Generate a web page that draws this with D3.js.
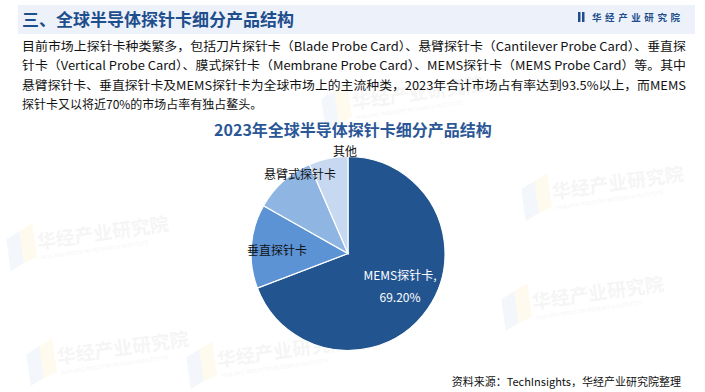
<!DOCTYPE html>
<html>
<head>
<meta charset="utf-8">
<script src="https://cdn.jsdelivr.net/npm/d3@7"></script>
<style>
  body { margin: 0; background: #fff; }
  svg { display: block; font-family: "Noto Sans CJK SC", "Noto Sans", sans-serif; }
</style>
</head>
<body>
<script>
// data
const categories = ["MEMS探针卡", "垂直探针卡", "悬臂式探针卡", "其他"];
const shares = [69.2, 14.0, 10.3, 6.5];
const colors = ["#22548f", "#5b93d5", "#8fb5e3", "#c6d9f1"];

const bodyLines = [
  "目前市场上探针卡种类繁多，包括刀片探针卡（Blade Probe Card）、悬臂探针卡（Cantilever Probe Card）、垂直探",
  "针卡（Vertical Probe Card）、膜式探针卡（Membrane Probe Card）、MEMS探针卡（MEMS Probe Card）等。其中",
  "悬臂探针卡、垂直探针卡及MEMS探针卡为全球市场上的主流种类，2023年合计市场占有率达到93.5%以上，而MEMS",
  "探针卡又以将近70%的市场占率有独占鳌头。"
];

const W = 705, H = 392;
const svg = d3.select("body").append("svg").attr("width", W).attr("height", H);

// faint watermarks
const marks = [[30, 250], [50, 365], [345, 110], [525, 310], [545, 200], [210, 368]];
marks.forEach(([x, y]) => {
  const g = svg.append("g").attr("transform", `translate(${x},${y}) rotate(-8)`);
  g.append("path").attr("d", "M-22,-14 L-8,-20 L-8,12 L-22,18 Z").attr("fill", "#e8eef8").attr("opacity", 0.5);
  g.append("path").attr("d", "M-8,-20 L6,-26 L6,8 L-8,12 Z").attr("fill", "#fdf6dc").attr("opacity", 0.5);
  g.append("text").attr("x", 8).attr("y", 0).attr("font-size", 19).attr("font-weight", "bold")
    .attr("fill", "#000").attr("opacity", 0.035).text("华经产业研究院");
  g.append("text").attr("x", 10).attr("y", 11).attr("font-size", 5.5)
    .attr("fill", "#000").attr("opacity", 0.04).text("HUAJING INDUSTRY RESEARCH INSTITUTE");
});

// header bar
svg.append("rect").attr("x", 18).attr("y", 5).attr("width", 677).attr("height", 29).attr("fill", "#edf2fa");
svg.append("text").attr("x", 22).attr("y", 26).attr("font-size", 17).attr("font-weight", "bold")
  .attr("fill", "#1f4e8c").text("三、全球半导体探针卡细分产品结构");

// logo
svg.append("rect").attr("x", 578).attr("y", 12).attr("width", 2.5).attr("height", 10).attr("fill", "#1f4e8c");
svg.append("rect").attr("x", 582).attr("y", 12).attr("width", 2.5).attr("height", 10).attr("fill", "#1f4e8c");
svg.append("text").attr("x", 592).attr("y", 21).attr("font-size", 9.5).attr("font-weight", "bold")
  .attr("fill", "#1f4e8c").attr("textLength", 88).attr("lengthAdjust", "spacing").text("华经产业研究院");

// paragraph
svg.selectAll("text.body").data(bodyLines).enter().append("text")
  .attr("class", "body")
  .attr("x", 22)
  .attr("y", (d, i) => 51 + i * 19.3)
  .attr("font-size", 12)
  .attr("fill", "#111")
  .attr("textLength", (d, i) => i < 3 ? 664 : null)
  .attr("lengthAdjust", "spacingAndGlyphs")
  .text(d => d);

// chart title
svg.append("text").attr("x", 353).attr("y", 136).attr("text-anchor", "middle")
  .attr("font-size", 16).attr("font-weight", "bold").attr("fill", "#2b5797")
  .text("2023年全球半导体探针卡细分产品结构");

// pie
const cx = 348, cy = 253.5, r = 97;
const data = categories.map((c, i) => ({ name: c, value: shares[i], color: colors[i] }));
const pie = d3.pie().value(d => d.value).sort(null);
const arc = d3.arc().innerRadius(0).outerRadius(r);
const arcs = pie(data);

const g = svg.append("g").attr("transform", `translate(${cx},${cy})`);
g.selectAll("path").data(arcs).enter().append("path")
  .attr("d", arc)
  .attr("fill", d => d.data.color)
  .attr("stroke", "#fff")
  .attr("stroke-width", 1.2);

// MEMS label inside the big slice
g.append("text").attr("x", 52).attr("y", 26).attr("text-anchor", "middle")
  .attr("font-size", 12).attr("fill", "#fff").text(categories[0] + ",");
g.append("text").attr("x", 52).attr("y", 48).attr("text-anchor", "middle")
  .attr("font-size", 12).attr("fill", "#fff").text(shares[0].toFixed(2) + "%");

// labels for the smaller slices
const offsets = [null, [-71, 1], [-48, -75], [-3, -97.5]];
[1, 2, 3].forEach(i => {
  g.append("text")
    .attr("x", offsets[i][0])
    .attr("y", offsets[i][1])
    .attr("text-anchor", "middle")
    .attr("font-size", 12)
    .attr("fill", "#111")
    .text(arcs[i].data.name);
});

// source
svg.append("text").attr("x", 681).attr("y", 386).attr("text-anchor", "end")
  .attr("font-size", 11).attr("fill", "#111")
  .text("资料来源：TechInsights，华经产业研究院整理");
</script>
</body>
</html>
